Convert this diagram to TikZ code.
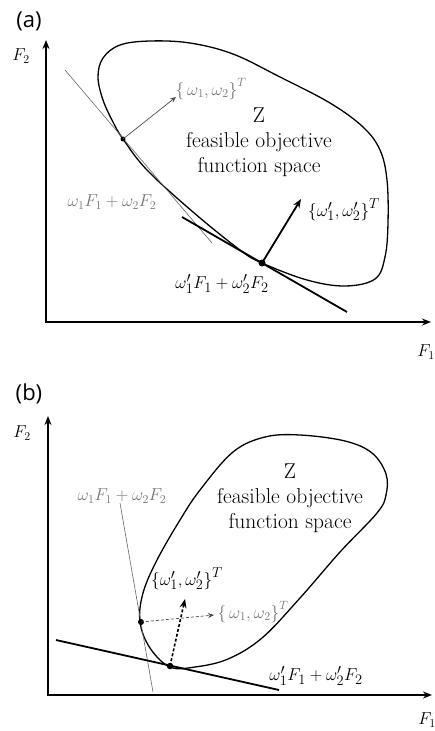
\documentclass[tikz,border=0pt]{standalone}
\usepackage{fontspec}
\newfontfamily\labfont{Open Sans}
\usetikzlibrary{arrows.meta}
\begin{document}
\begin{tikzpicture}[x=1pt,y=-1pt,
  axis/.style={line width=2.4pt,-{Stealth[length=9pt,width=7pt]}},
  blob/.style={line width=1.3pt},
  thinline/.style={line width=0.6pt,black!60},
  thickline/.style={line width=1.8pt},
  smalldot/.style={circle,fill=black,inner sep=0pt,minimum size=5pt},
  bigdot/.style={circle,fill=black,inner sep=0pt,minimum size=7pt},
  vecthick/.style={line width=1.8pt,-{Stealth[length=9pt,width=7pt]}},
  vecthin/.style={line width=0.7pt,black!70,-{Stealth[length=6pt,width=5pt]}},
  panel/.style={font=\labfont\fontsize{22}{26}\selectfont,inner sep=0pt},
  axlab/.style={font=\fontsize{18}{20}\selectfont,inner sep=0pt},
  mathlab/.style={font=\fontsize{19}{22}\selectfont,inner sep=0pt},
  graylab/.style={font=\fontsize{17}{20}\selectfont,text=black!55,inner sep=0pt},
  ztext/.style={font=\fontsize{21.5}{25}\selectfont,align=center,inner sep=0pt}
]
\useasboundingbox (0,0) rectangle (435,731);

% ================= panel (a) =================
\node[panel] (pa) at (29,21) {(a)};
\coordinate (oa) at (46,322);
\coordinate (ya) at (46,40);
\coordinate (xa) at (431,322);
\draw[axis] (oa) -- (ya);
\draw[axis] ([xshift=-1.2pt]oa) -- (xa);
\node[axlab] (f2a) at (21,56) {$F_2$};
\node[axlab] (f1a) at (426,352) {$F_1$};

\draw[blob] plot[smooth cycle,tension=0.6] coordinates {
 (123,139) (147,170) (193,212) (240,250) (262,263) (307,280) (345,286)
 (375,279) (385,257) (388,223) (387,180) (380,150) (363,127) (330,103)
 (280,77) (233,54) (190,43) (150,41) (120,45) (103,58) (98,77) (103,100) (113,122)};

\coordinate (ta1) at (65,70);
\coordinate (ta2) at (212,243);
\draw[thinline] (ta1) -- (ta2);
\coordinate (sa1) at (182,217);
\coordinate (sa2) at (347,312);
\draw[thickline] (sa1) -- (sa2);

\node[smalldot] (pa1) at (123,139) {};
\node[bigdot] (pa2) at (262,263) {};
\coordinate (va1) at (176,97);
\coordinate (va2) at (301,199);
\draw[vecthin] (pa1.center) -- (va1);
\draw[vecthick] (pa2.center) -- (va2);

\node[graylab] (wa) at (211,89) {$\bigl\{\,\omega_1,\omega_2\bigr\}^T$};
\node[mathlab] (wpa) at (344,210) {$\bigl\{\omega'_1,\omega'_2\bigr\}^T$};
\node[graylab] (la) at (112,202) {$\omega_1F_1+\omega_2F_2$};
\node[mathlab] (lpa) at (222,284) {$\omega'_1F_1+\omega'_2F_2$};
\node[ztext] (za) at (259,142) {Z\\feasible objective\\function space};

% ================= panel (b) =================
\node[panel] (pb) at (29,394) {(b)};
\coordinate (ob) at (48,695);
\coordinate (yb) at (48,416);
\coordinate (xb) at (432,695);
\draw[axis] (ob) -- (yb);
\draw[axis] ([xshift=-1.2pt]ob) -- (xb);
\node[axlab] (f2b) at (22,433) {$F_2$};
\node[axlab] (f1b) at (427,720) {$F_1$};

\draw[blob] plot[smooth cycle,tension=0.6] coordinates {
 (170,667) (150,648) (140,622) (143,593) (157,560) (180,520) (200,490)
 (233,452) (265,437) (300,435) (345,441) (372,453) (386,474) (386,495)
 (377,513) (340,552) (300,598) (262,638) (228,659) (195,667)};

\coordinate (tb1) at (120,503);
\coordinate (tb2) at (153,692);
\draw[thinline] (tb1) -- (tb2);
\coordinate (sb1) at (56,640);
\coordinate (sb2) at (279,690);
\draw[thickline] (sb1) -- (sb2);

\node[smalldot,minimum size=6pt] (pb1) at (141,622) {};
\node[bigdot,minimum size=6.5pt] (pb2) at (170,666) {};
\coordinate (vb1) at (214,615);
\coordinate (vb2) at (185,599);
\draw[vecthin,densely dashed] (pb1.center) -- (vb1);
\draw[vecthick,line width=1.6pt,densely dashed] (pb2.center) -- (vb2);

\node[mathlab] (wpb) at (187,579) {$\bigl\{\omega'_1,\omega'_2\bigr\}^T$};
\node[graylab] (wb) at (253,612) {$\bigl\{\,\omega_1,\omega_2\bigr\}^T$};
\node[graylab] (lb) at (122,496) {$\omega_1F_1+\omega_2F_2$};
\node[mathlab] (lpb) at (316,676) {$\omega'_1F_1+\omega'_2F_2$};
\node[ztext] (zb) at (290,498) {Z\\feasible objective\\function space};
\end{tikzpicture}
\end{document}
